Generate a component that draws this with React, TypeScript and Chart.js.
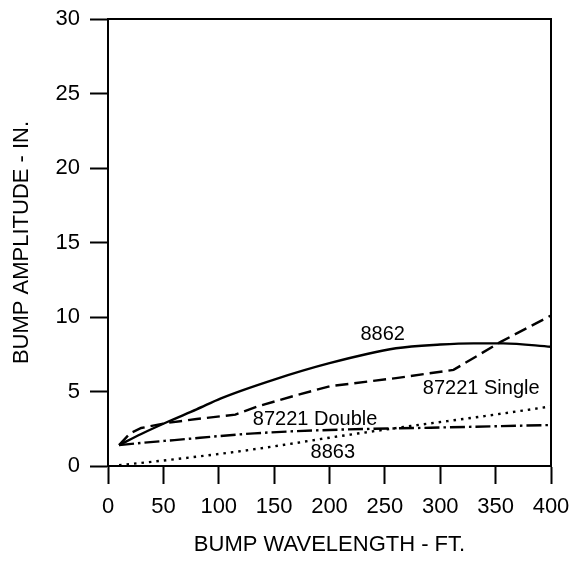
import React, { useEffect, useRef } from "react";
import { Chart, registerables } from "chart.js";

Chart.register(...registerables);

// Axis ranges / ticks
const xMin = 0;
const xMax = 400;
const xStep = 50;
const yMin = 0;
const yMax = 30;
const yStep = 5;

const xTitle = "BUMP WAVELENGTH - FT.";
const yTitle = "BUMP AMPLITUDE - IN.";

// Series: 8862 (solid)
const s8862X = [10, 30, 54, 80, 102, 150, 200, 260, 300, 330, 357, 400];
const s8862Y = [1.4, 2.15, 2.97, 3.8, 4.54, 5.8, 6.9, 7.9, 8.15, 8.23, 8.23, 8.0];

// Series: 87221 Single (dashed)
const sSingleX = [10, 20, 30, 54, 80, 115, 135, 170, 200, 260, 312, 355, 400];
const sSingleY = [1.4, 2.2, 2.55, 2.9, 3.15, 3.45, 4.0, 4.75, 5.35, 5.9, 6.45, 8.35, 10.1];

// Series: 87221 Double (dash-dot)
const sDoubleX = [10, 30, 60, 132, 200, 291, 400];
const sDoubleY = [1.4, 1.55, 1.74, 2.19, 2.42, 2.57, 2.75];

// Series: 8863 (dotted)
const s8863X = [10, 60, 120, 170, 200, 275, 340, 400];
const s8863Y = [0.05, 0.45, 1.0, 1.55, 1.9, 2.7, 3.35, 4.0];

// Curve labels (text, anchor in data coordinates)
const labelTexts = ["8862", "87221 Single", "87221 Double", "8863"];
const labelXs = [248, 337, 187, 203];
const labelYs = [8.8, 5.2, 3.1, 0.93];

const FONT = "'Liberation Sans', Arial, Helvetica, sans-serif";

function toPoints(xs: number[], ys: number[]) {
  return xs.map((x, i) => ({ x, y: ys[i] }));
}

const frameAndLabels = {
  id: "frameAndLabels",
  afterDatasetsDraw(chart: any) {
    const { ctx, chartArea, scales } = chart;
    ctx.save();
    ctx.strokeStyle = "#000";
    ctx.lineWidth = 2;
    ctx.beginPath();
    ctx.moveTo(chartArea.left, chartArea.top);
    ctx.lineTo(chartArea.right, chartArea.top);
    ctx.lineTo(chartArea.right, chartArea.bottom);
    ctx.stroke();
    ctx.fillStyle = "#000";
    ctx.font = `20px ${FONT}`;
    ctx.textAlign = "center";
    ctx.textBaseline = "middle";
    labelTexts.forEach((t, i) => {
      const px = scales.x.getPixelForValue(labelXs[i]);
      const py = scales.y.getPixelForValue(labelYs[i]);
      ctx.fillText(t, px, py);
    });
    ctx.restore();
  },
};

export default function App() {
  const canvasRef = useRef<HTMLCanvasElement | null>(null);

  useEffect(() => {
    if (!canvasRef.current) return;
    const common = {
      borderColor: "#000",
      borderWidth: 2.4,
      pointRadius: 0,
      fill: false,
    };
    const chart = new Chart(canvasRef.current, {
      type: "line",
      data: {
        datasets: [
          {
            ...common,
            label: "8862",
            data: toPoints(s8862X, s8862Y),
            cubicInterpolationMode: "monotone",
          },
          {
            ...common,
            label: "87221 Single",
            data: toPoints(sSingleX, sSingleY),
            borderDash: [13, 6],
            tension: 0,
          },
          {
            ...common,
            label: "87221 Double",
            data: toPoints(sDoubleX, sDoubleY),
            borderDash: [15, 4, 2.5, 4],
            cubicInterpolationMode: "monotone",
          },
          {
            ...common,
            label: "8863",
            data: toPoints(s8863X, s8863Y),
            borderDash: [2.5, 5],
            cubicInterpolationMode: "monotone",
          },
        ],
      },
      options: {
        responsive: false,
        animation: false,
        layout: { padding: { top: 19, right: 18, left: 0, bottom: 0 } },
        plugins: {
          legend: { display: false },
          tooltip: { enabled: false },
        },
        scales: {
          x: {
            type: "linear",
            min: xMin,
            max: xMax,
            afterFit: (scale: any) => {
              scale.height = 103;
              scale.paddingLeft = 0;
              scale.paddingRight = 0;
            },
            ticks: {
              stepSize: xStep,
              color: "#000",
              font: { family: FONT, size: 22 },
              padding: 10,
              maxRotation: 0,
            },
            grid: {
              drawOnChartArea: false,
              drawTicks: true,
              tickLength: 18,
              tickWidth: 2,
              tickColor: "#000",
            },
            border: { display: true, color: "#000", width: 2 },
            title: {
              display: true,
              text: xTitle,
              color: "#000",
              font: { family: FONT, size: 22 },
              padding: { top: 0, bottom: 11 },
            },
          },
          y: {
            type: "linear",
            min: yMin,
            max: yMax,
            afterFit: (scale: any) => {
              scale.width = 108;
              scale.paddingTop = 0;
              scale.paddingBottom = 0;
            },
            ticks: {
              stepSize: yStep,
              color: "#000",
              font: { family: FONT, size: 22 },
              padding: 10,
            },
            grid: {
              drawOnChartArea: false,
              drawTicks: true,
              tickLength: 18,
              tickWidth: 2,
              tickColor: "#000",
            },
            border: { display: true, color: "#000", width: 2 },
            title: {
              display: true,
              text: yTitle,
              color: "#000",
              font: { family: FONT, size: 22 },
              padding: { top: 9, bottom: 0 },
            },
          },
        },
      },
      plugins: [frameAndLabels],
    } as any);
    return () => chart.destroy();
  }, []);

  return (
    <div style={{ position: "absolute", left: 0, top: 0, width: 569, height: 569, background: "#fff" }}>
      <canvas ref={canvasRef} width={569} height={569} />
    </div>
  );
}
